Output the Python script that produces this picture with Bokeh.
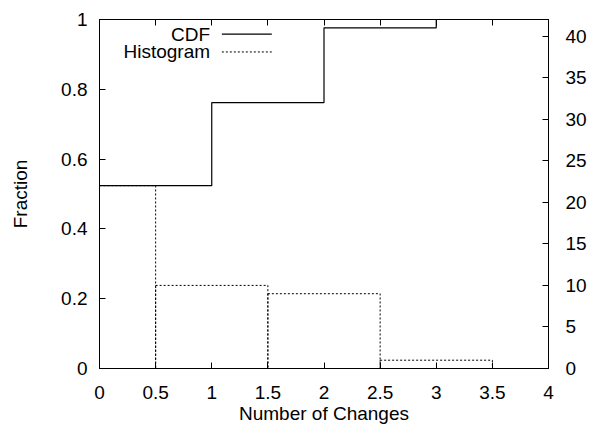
from bokeh.plotting import figure
from bokeh.models import (LinearAxis, Range1d, FixedTicker, Label, Arrow)
from bokeh.embed import file_html
from bokeh.resources import INLINE
import numpy as np

# ---- data ----
changes = [0, 1, 2, 3]          # number of changes
counts = [22, 10, 9, 1]         # histogram counts (right axis)
x_ticks = [0, 0.5, 1, 1.5, 2, 2.5, 3, 3.5, 4]
y_ticks = [0, 0.2, 0.4, 0.6, 0.8, 1]
y2_ticks = [0, 5, 10, 15, 20, 25, 30, 35, 40]

total = sum(counts)
cdf = list(np.cumsum(counts) / total)
step_x = changes + [4]
step_y = cdf + [cdf[-1]]
hist_left = [c - 0.5 for c in changes]
hist_right = [c + 0.5 for c in changes]

FONT = "Liberation Sans"
FS = "19px"

p = figure(width=589, height=426, output_backend="svg", toolbar_location=None,
           x_range=Range1d(0, 4), y_range=Range1d(0, 1),
           min_border_left=99, min_border_right=39, min_border_top=19,
           min_border_bottom=57)
p.extra_y_ranges = {"count": Range1d(0, 42)}
p.xgrid.visible = False
p.ygrid.visible = False
p.outline_line_color = "black"
p.outline_line_width = 1
p.background_fill_color = "white"
p.border_fill_color = "white"

def style(ax):
    ax.major_tick_in = 6
    ax.major_tick_out = 0
    ax.minor_tick_in = 0
    ax.minor_tick_out = 0
    ax.axis_line_color = "black"
    ax.major_tick_line_color = "black"
    ax.major_label_text_font = FONT
    ax.major_label_text_font_size = FS
    ax.major_label_text_color = "black"
    ax.axis_label_text_font = FONT
    ax.axis_label_text_font_size = FS
    ax.axis_label_text_font_style = "normal"
    ax.axis_label_text_color = "black"

# bottom x axis
xa = p.xaxis[0]
style(xa)
xa.ticker = FixedTicker(ticks=x_ticks)
xa.major_label_overrides = {0: "0", 1: "1", 2: "2", 3: "3", 4: "4"}
xa.axis_label = "Number of Changes"
xa.major_label_standoff = 17
xa.axis_label_standoff = 1

# left y axis
ya = p.yaxis[0]
style(ya)
ya.ticker = FixedTicker(ticks=y_ticks)
ya.major_label_overrides = {0: "0", 1: "1"}
ya.axis_label = "Fraction"
ya.major_label_standoff = 12
ya.axis_label_standoff = 27

# top mirror axis (ticks only)
top = LinearAxis(ticker=FixedTicker(ticks=x_ticks))
style(top)
top.major_label_overrides = {t: "" for t in x_ticks}
top.major_label_text_font_size = "1px"
top.major_label_standoff = 0
p.add_layout(top, "above")

# right axis (counts)
ra = LinearAxis(y_range_name="count", ticker=FixedTicker(ticks=y2_ticks))
style(ra)
ra.major_label_standoff = 17
p.add_layout(ra, "right")

# histogram (dotted boxes)
p.quad(left=hist_left, right=hist_right, bottom=0, top=counts,
       y_range_name="count", fill_color=None, line_color="black",
       line_width=1, line_dash="2 2")

# CDF step line
p.step(step_x, step_y, mode="after", line_color="black", line_width=1.2)

# gnuplot-style key: text then sample
key_text_x = 0.985
key_line_x0, key_line_x1 = 1.09, 1.535
key_rows = [("CDF", 0.958, "solid"), ("Histogram", 0.907, "2 2")]
for txt, yy, dash in key_rows:
    p.add_layout(Label(x=key_text_x, y=yy, text=txt, text_align="right",
                       text_baseline="middle", text_font=FONT,
                       text_font_size=FS, text_color="black"))
    p.add_layout(Arrow(end=None, x_start=key_line_x0, y_start=yy,
                       x_end=key_line_x1, y_end=yy, line_color="black",
                       line_width=1.2 if dash == "solid" else 1,
                       line_dash=dash))

open("out.html", "w").write(file_html(p, INLINE))
